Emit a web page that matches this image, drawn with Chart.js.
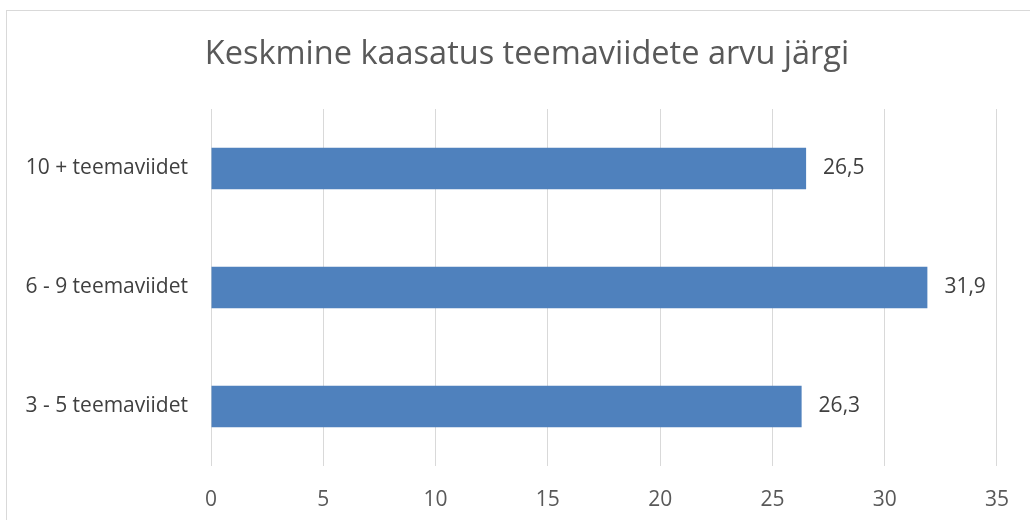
<!DOCTYPE html>
<html><head><meta charset="utf-8">
<script src="https://cdn.jsdelivr.net/npm/chart.js@4/dist/chart.umd.min.js"></script>
<style>html,body{margin:0;padding:0;background:#fff;}#wrap{width:1030px;height:520px;position:relative;}</style>
</head><body><div id="wrap"><canvas id="c" width="1030" height="520"></canvas></div>
<script>
const categories = ["10 + teemaviidet", "6 - 9 teemaviidet", "3 - 5 teemaviidet"];
const values = [26.5, 31.9, 26.3];
const valueLabels = ["26,5", "31,9", "26,3"];
const xTicks = [0, 5, 10, 15, 20, 25, 30, 35];
const titleText = "Keskmine kaasatus teemaviidete arvu järgi";
const FONT = "'Open Sans', sans-serif";

const framePlugin = {
  id: 'frame',
  beforeDraw(chart) {
    const ctx = chart.ctx;
    ctx.save();
    ctx.fillStyle = '#fff';
    ctx.fillRect(0, 0, chart.width, chart.height);
    ctx.strokeStyle = '#d9d9d9';
    ctx.lineWidth = 1;
    ctx.strokeRect(6.5, 10.5, 1200, 700);
    ctx.font = "32.5px " + FONT;
    ctx.fillStyle = '#595959';
    ctx.textAlign = 'center';
    ctx.textBaseline = 'middle';
    ctx.fillText(titleText, 527, 55);
    ctx.restore();
  }
};
const labelPlugin = {
  id: 'vlabels',
  afterDatasetsDraw(chart) {
    const ctx = chart.ctx;
    const meta = chart.getDatasetMeta(0);
    ctx.save();
    ctx.font = "21px " + FONT;
    ctx.fillStyle = '#404040';
    ctx.textAlign = 'left';
    ctx.textBaseline = 'middle';
    meta.data.forEach((bar, i) => {
      ctx.fillText(valueLabels[i], bar.x + 17, bar.y);
    });
    ctx.restore();
  }
};

new Chart(document.getElementById('c'), {
  type: 'bar',
  data: {
    labels: categories,
    datasets: [{ data: values, backgroundColor: '#4f81bd', borderWidth: 0, categoryPercentage: 0.7, barPercentage: 0.5 }]
  },
  options: {
    indexAxis: 'y',
    responsive: false,
    animation: false,
    layout: { padding: { left: 8, right: 20, top: 109, bottom: 0 } },
    plugins: {
      legend: { display: false },
      tooltip: { enabled: false },
      title: { display: false }
    },
    scales: {
      x: {
        min: 0, max: 35,
        afterBuildTicks(s) { s.ticks = xTicks.map(v => ({ value: v })); },
        grid: { color: '#d9d9d9', drawTicks: false },
        border: { display: false },
        ticks: { color: '#595959', font: { family: FONT, size: 21 }, padding: 21, maxRotation: 0 },
        afterFit(s) { s.height = 54; }
      },
      y: {
        grid: { display: false, drawTicks: false },
        border: { display: false },
        ticks: { color: '#404040', font: { family: FONT, size: 21 }, padding: 23 },
        afterFit(s) { s.width = 203; }
      }
    }
  },
  plugins: [framePlugin, labelPlugin]
});
</script></body></html>
